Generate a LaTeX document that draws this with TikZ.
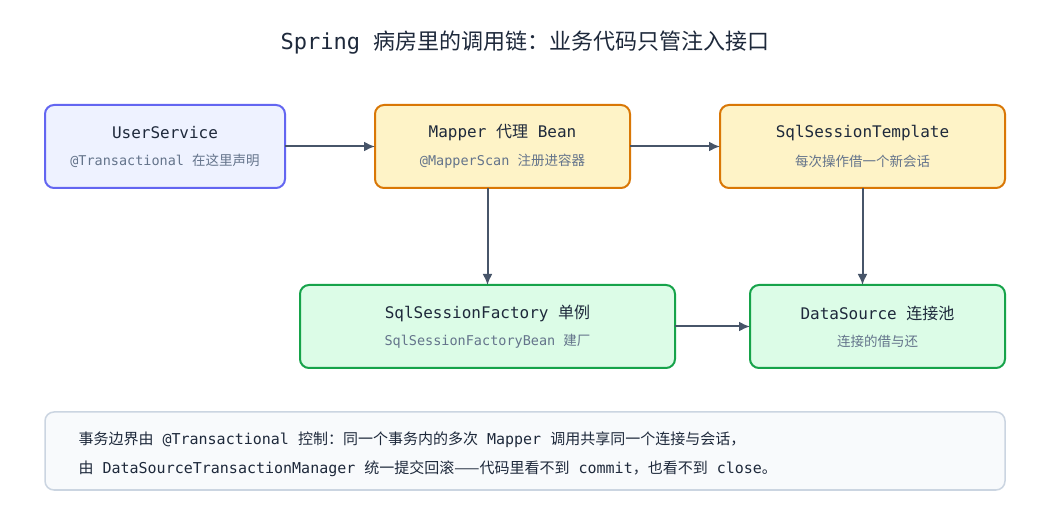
\documentclass[tikz,border=0pt]{standalone}
\usepackage{fontspec}
\setmainfont{DejaVu Sans Mono}
\newfontfamily\cjk{Noto Sans CJK SC}
\newcommand{\zh}[1]{{\cjk #1}}
\usetikzlibrary{arrows.meta}
\definecolor{arr}{HTML}{475569}
\definecolor{txt}{HTML}{1E293B}
\definecolor{sub}{HTML}{64748B}
\definecolor{HTML6366F1}{HTML}{6366F1}
\definecolor{HTMLEEF2FF}{HTML}{EEF2FF}
\definecolor{HTMLD97706}{HTML}{D97706}
\definecolor{HTMLFEF3C7}{HTML}{FEF3C7}
\definecolor{HTML16A34A}{HTML}{16A34A}
\definecolor{HTMLDCFCE7}{HTML}{DCFCE7}
\definecolor{HTMLF8FAFC}{HTML}{F8FAFC}
\definecolor{HTMLCBD5E1}{HTML}{CBD5E1}
\tikzset{
 box/.style={rounded corners=9pt, line width=2pt},
 bluebox/.style={box, draw=HTML6366F1, fill=HTMLEEF2FF},
 orgbox/.style={box, draw=HTMLD97706, fill=HTMLFEF3C7},
 grnbox/.style={box, draw=HTML16A34A, fill=HTMLDCFCE7},
 ttl/.style={font=\fontsize{16}{19}\selectfont, text=txt},
 sbt/.style={font=\fontsize{13.5}{16}\selectfont, text=sub},
 conn/.style={draw=arr, line width=2pt, -{Latex[length=11pt,width=10pt]}},
}
\begin{document}
\begin{tikzpicture}[x=1pt,y=-1pt]
\useasboundingbox[fill=white] (0,0) rectangle (1050,510);
\node[font=\fontsize{22}{26}\selectfont, text=txt] (title) at (525,43) {Spring \zh{病房里的调用链：业务代码只管注入接口}};
\path[bluebox] (45,105) rectangle (285,188);
\path[orgbox] (375,105) rectangle (630,188);
\path[orgbox] (720,105) rectangle (1005,188);
\path[grnbox] (300,285) rectangle (675,368);
\path[grnbox] (750,285) rectangle (1005,368);
\node[ttl] (us1) at (165,133) {UserService};
\node[sbt] (us2) at (165,161) {@Transactional \zh{在这里声明}};
\node[ttl] (mp1) at (502.5,133) {Mapper \zh{代理} Bean};
\node[sbt] (mp2) at (502.5,161) {@MapperScan \zh{注册进容器}};
\node[ttl] (st1) at (862.5,133) {SqlSessionTemplate};
\node[sbt] (st2) at (862.5,161) {\zh{每次操作借一个新会话}};
\node[ttl] (sf1) at (487.5,313) {SqlSessionFactory \zh{单例}};
\node[sbt] (sf2) at (487.5,341) {SqlSessionFactoryBean \zh{建厂}};
\node[ttl] (ds1) at (877.5,313) {DataSource \zh{连接池}};
\node[sbt] (ds2) at (877.5,341) {\zh{连接的借与还}};
\coordinate (a1) at (285,146.5); \coordinate (b1) at (375,146.5);
\coordinate (a2) at (630,146.5); \coordinate (b2) at (720,146.5);
\coordinate (a3) at (487.5,188); \coordinate (b3) at (487.5,285);
\coordinate (a4) at (862.5,188); \coordinate (b4) at (862.5,285);
\coordinate (a5) at (675,326.5); \coordinate (b5) at (750,326.5);
\draw[conn] (a1) -- (b1);
\draw[conn] (a2) -- (b2);
\draw[conn] (a3) -- (b3);
\draw[conn] (a4) -- (b4);
\draw[conn] (a5) -- (b5);
\path[rounded corners=9pt, draw=HTMLCBD5E1, fill=HTMLF8FAFC, line width=1.5pt] (45,412) rectangle (1005,490);
\node[anchor=west, font=\fontsize{15}{18}\selectfont, text=txt] (n1) at (75,440) {\zh{事务边界由} @Transactional \zh{控制：同一个事务内的多次} Mapper \zh{调用共享同一个连接与会话，}};
\node[anchor=west, font=\fontsize{15}{18}\selectfont, text=txt] (n2) at (75,469) {\zh{由} DataSourceTransactionManager \zh{统一提交回滚——代码里看不到} commit\zh{，也看不到} close\zh{。}};
\end{tikzpicture}
\end{document}
